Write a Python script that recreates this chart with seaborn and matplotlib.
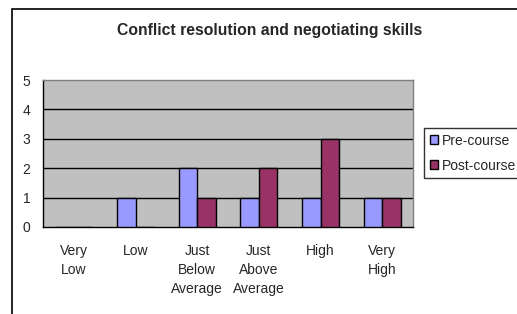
import numpy as np
import pandas as pd
import seaborn as sns
import matplotlib.pyplot as plt
from matplotlib.patches import Rectangle

categories = ['Very\nLow', 'Low', 'Just\nBelow\nAverage', 'Just\nAbove\nAverage', 'High', 'Very\nHigh']
pre_course = [0, 1, 2, 1, 1, 1]
post_course = [0, 0, 1, 2, 3, 1]

df = pd.DataFrame({
    'level': categories * 2,
    'count': pre_course + post_course,
    'group': ['Pre-course'] * 6 + ['Post-course'] * 6,
})

sns.set_style('white')
plt.rcParams['font.family'] = ['Liberation Sans', 'DejaVu Sans']

fig = plt.figure(figsize=(5.17, 3.14), dpi=100)
ax = fig.add_axes([43 / 517, 1 - 227 / 314, 370 / 517, 147 / 314])

# outer chart border (left + top only visible)
fig.patches.append(Rectangle((12 / 517, -0.1), 1.2, 1 - 9 / 314 + 0.1, transform=fig.transFigure,
                             fill=False, edgecolor='black', linewidth=1.2))

sns.barplot(data=df, x='level', y='count', hue='group', ax=ax,
            palette={'Pre-course': '#9999FF', 'Post-course': '#993366'},
            width=0.6, edgecolor='black', linewidth=1, saturation=1, zorder=3)

ax.set_facecolor('#C0C0C0')
ax.set_ylim(0, 5)
ax.set_xlim(-0.5, 5.5)
ax.set_yticks(range(6))
ax.set_xlabel('')
ax.set_ylabel('')
for y in range(1, 5):
    ax.axhline(y, color='black', linewidth=1, zorder=1)

ax.set_xticks(np.arange(-0.5, 6, 1), minor=False, labels=[''] * 7)
ax.set_xticks(range(6), minor=True, labels=categories)
ax.tick_params(axis='x', which='minor', length=0, pad=12, labelsize=10)
ax.tick_params(axis='x', which='major', length=4, width=1, color='black', direction='out')
ax.tick_params(axis='y', length=4, width=1, color='black', direction='out', labelsize=10, pad=5)
for lbl in ax.get_xticklabels(minor=True):
    lbl.set_linespacing(1.45)
    lbl.set_verticalalignment('top')

for side in ['left', 'bottom']:
    ax.spines[side].set_color('black')
    ax.spines[side].set_linewidth(1)
for side in ['top', 'right']:
    ax.spines[side].set_color('#808080')
    ax.spines[side].set_linewidth(1)

ax.get_legend().remove()
handles, labels = ax.get_legend_handles_labels()
leg = fig.legend(handles, labels, loc='upper left', bbox_to_anchor=(424 / 517, 1 - 128 / 314),
                 frameon=True, fancybox=False, edgecolor='black', fontsize=10,
                 handlelength=0.6, handleheight=0.6, handletextpad=0.3,
                 borderpad=0.4, labelspacing=0.8, borderaxespad=0)
leg.get_frame().set_linewidth(1)

fig.text(270 / 517, 1 - 31 / 314, 'Conflict resolution and negotiating skills',
         ha='center', va='center', fontsize=11.3, fontweight='bold')

fig.savefig('out.png', dpi=100)
